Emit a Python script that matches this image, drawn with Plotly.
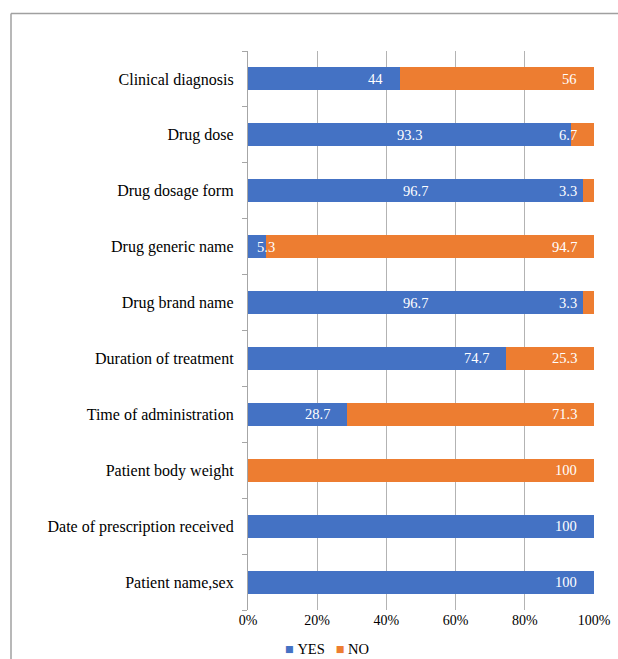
import plotly.graph_objects as go

categories = ["Clinical diagnosis", "Drug dose", "Drug dosage form", "Drug generic name",
              "Drug brand name", "Duration of treatment", "Time of administration",
              "Patient body weight", "Date of prescription received", "Patient name,sex"]
yes_vals = [44, 93.3, 96.7, 5.3, 96.7, 74.7, 28.7, 0, 100, 100]
no_vals = [56, 6.7, 3.3, 94.7, 3.3, 25.3, 71.3, 100, 0, 0]
x_ticks = [0, 20, 40, 60, 80, 100]
series = [("YES", yes_vals, "#4472C4"), ("NO", no_vals, "#ED7D31")]

W, H = 618, 659
L, R, T, B = 248, 24, 51, 49
pw, ph = W - L - R, H - T - B

def px_x(p):
    return (p - L) / pw

def px_y(p):
    return (H - B - p) / ph

FONT = "Liberation Serif"
NB = "\u00a0"

fig = go.Figure()
for name, vals, color in series:
    fig.add_trace(go.Bar(
        y=categories, x=vals, name=name, orientation="h",
        marker=dict(color=color, line=dict(width=0)),
        showlegend=False, hoverinfo="x+y+name",
    ))

# data labels (Excel-style "inside end", nudged where the neighbouring segment is tiny)
annotations = []
for i, cat in enumerate(categories):
    start = 0
    segs = [v[i] for _, v, _ in series]
    for k, (name, vals, color) in enumerate(series):
        v = vals[i]
        end = start + v
        if v > 0:
            nxt = segs[k + 1] if k + 1 < len(segs) else None
            if nxt is not None and v < 10:
                ann = dict(x=end, xanchor="center", xshift=0)
            elif nxt is not None and 0 < nxt < 10:
                ann = dict(x=(start + end) / 2, xanchor="center", xshift=0)
            else:
                ann = dict(x=end, xanchor="right", xshift=-15)
            ann.update(y=cat, xref="x", yref="y", yanchor="middle", showarrow=False,
                       text=f"{v:g}", font=dict(color="white", size=14.5, family=FONT))
            annotations.append(ann)
        start = end

legend_html = (NB * 3).join(
    f'<span style="color:{c}">\u25a0</span>{NB}{n}' for n, _, c in series
)
annotations.append(dict(xref="paper", yref="paper", x=px_x(327), y=px_y(649),
                        xanchor="center", yanchor="middle", showarrow=False,
                        text=legend_html, font=dict(size=14.5, family=FONT, color="black")))

fig.update_layout(
    width=W, height=H,
    margin=dict(l=L, r=R, t=T, b=B, pad=0, autoexpand=False),
    barmode="stack", bargap=0.59,
    plot_bgcolor="white", paper_bgcolor="white",
    font=dict(family=FONT, size=14, color="black"),
    showlegend=False,
    xaxis=dict(range=[0, 100], tickvals=x_ticks, ticktext=[f"{t}%" for t in x_ticks],
               showgrid=True, gridcolor="#b3b3b3", gridwidth=1.3, zeroline=False,
               showline=False, ticks="", automargin=False,
               tickfont=dict(size=14, color="black", family=FONT)),
    yaxis=dict(categoryorder="array", categoryarray=categories[::-1],
               autorange=False, range=[-0.5, len(categories) - 0.5],
               showline=True, linecolor="#a6a6a6", linewidth=1.3,
               ticks="outside", tickson="boundaries", ticklen=5, tickcolor="#a6a6a6",
               tickwidth=1.3, showgrid=False, ticklabelstandoff=10, automargin=False,
               tickfont=dict(size=16, color="black", family=FONT)),
    annotations=annotations,
    shapes=[
        dict(type="line", xref="paper", yref="paper", x0=px_x(11), x1=px_x(625),
             y0=px_y(13.5), y1=px_y(13.5), line=dict(color="#a0a0a0", width=1.5)),
        dict(type="line", xref="paper", yref="paper", x0=px_x(11), x1=px_x(11),
             y0=px_y(13.5), y1=px_y(670), line=dict(color="#a0a0a0", width=1.5)),
    ],
)

fig.write_html("out.html")
